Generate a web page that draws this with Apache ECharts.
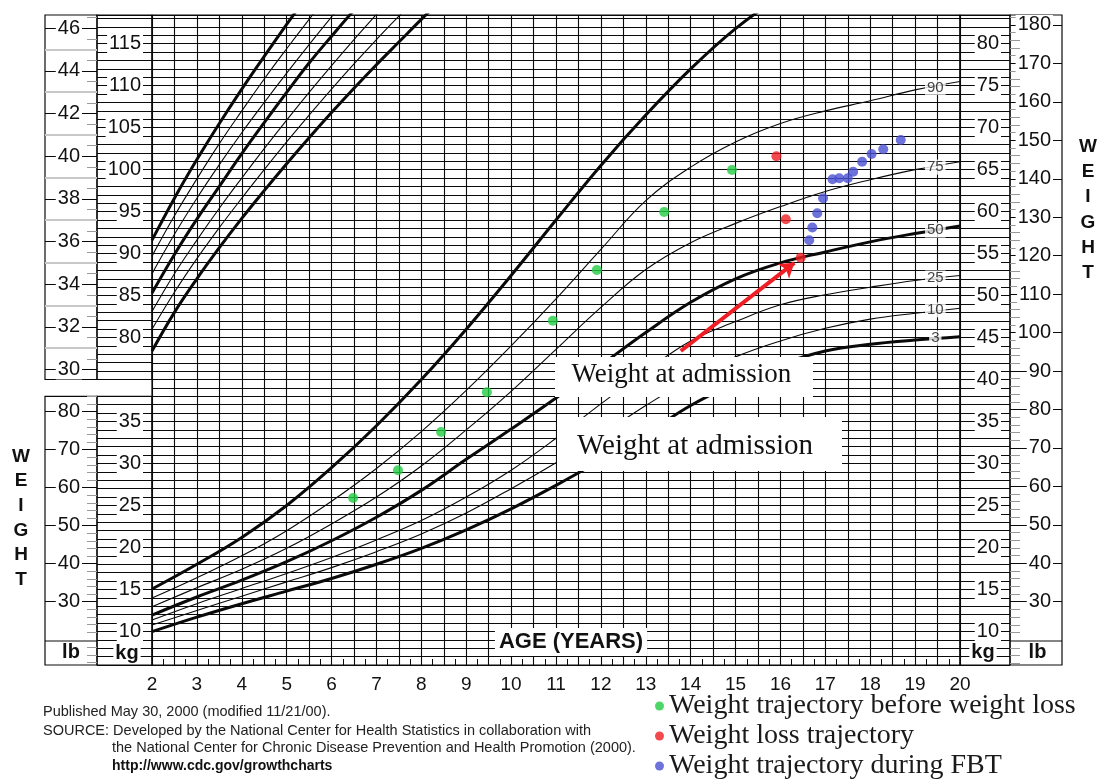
<!DOCTYPE html>
<html><head><meta charset="utf-8">
<script src="https://cdn.jsdelivr.net/npm/echarts@6/dist/echarts.min.js"></script>
<style>html,body{margin:0;padding:0;background:#fff}#c{width:1097px;height:780px}</style>
</head><body><div id="c"></div>
<script>
// ---------- data ----------
const weightAges = [2,3,4,5,6,7,8,9,10,11,12,13,14,15,16,17,18,19,20];
const wP3  = [9.97,11.7,13.3,14.8,16.3,18.0,19.9,22.1,24.6,27.4,30.4,33.5,36.9,39.6,41.8,43.4,44.2,44.7,45.1];
const wP10 = [10.76,12.5,14.2,15.9,17.6,19.5,21.6,24.1,27.0,30.1,33.4,36.9,40.1,42.7,44.6,46.1,47.2,47.9,48.5];
const wP25 = [11.36,13.3,15.1,16.9,18.8,20.9,23.2,26.0,29.2,33.0,37.1,41.0,44.6,46.9,48.9,50.1,51.0,51.8,52.4];
const wP50 = [11.95,14.1,16.1,18.3,20.8,23.6,26.8,30.5,34.1,37.8,41.7,45.6,49.2,52.0,53.9,55.2,56.4,57.4,58.3];
const wP75 = [12.95,15.2,17.4,19.9,22.8,26.0,29.7,34.0,38.6,43.6,48.6,53.1,56.3,58.6,60.6,62.4,63.8,65.0,65.95];
const wP90 = [13.98,16.4,19.0,22.0,25.5,29.4,33.8,38.7,44.0,49.6,55.5,61.3,65.3,68.3,70.5,72.0,73.2,74.5,75.5];
const wP97 = [15.05,18.0,21.2,25.0,29.5,34.5,40.0,46.0,52.4,59.0,65.5,71.5,77.0,81.8,85.6,88.5,90.8,92.4,93.5];

const statureAges = [2,2.5,3,3.5,4,4.5,5,5.5,6,6.5,7,7.5,8,8.5,9];
const sP97 = [91.6,96.6,101.2,105.5,109.6,113.5,117.3,121.0,124.6];
const sP90 = [89.7,94.5,98.9,103.1,107.0,110.8,114.4,117.9,121.3,124.6];
const sP75 = [87.6,92.3,96.6,100.6,104.4,108.0,111.5,114.9,118.2,121.4];
const sP50 = [85.3,89.9,94.1,98.0,101.9,105.6,109.2,112.7,115.9,119.0,122.0];
const sP25 = [83.1,87.6,91.6,95.4,99.0,102.5,105.9,109.2,112.4,115.5,118.5,121.5];
const sP10 = [81.0,85.4,89.4,93.1,96.6,100.0,103.3,106.5,109.6,112.6,115.5,118.3,121.1];
const sP3  = [78.4,83.0,87.0,90.7,94.2,97.5,100.7,103.8,106.8,109.7,112.5,115.2,117.9,120.5];

const curveLabelNames = ['90','75','50','25','10','3'];
const curveLabelAge = 19.45;
const curveLabelKg = [74.8,65.3,57.8,52.1,48.3,44.95];

const greenAges = [6.48,7.48,8.44,9.46,10.93,11.91,13.41,14.92];
const greenKg   = [25.9,29.2,33.75,38.5,47.0,53.05,59.95,64.96];
const redAges = [15.91,16.12,16.45];
const redKg   = [66.6,59.1,54.5];
const blueAges = [16.64,16.71,16.82,16.95,17.16,17.31,17.50,17.62,17.82,18.03,18.29,18.68];
const blueKg   = [56.6,58.1,59.8,61.6,63.85,63.97,63.97,64.76,65.95,66.86,67.42,68.53];
const arrowFrom = [13.78,43.4];
const arrowTo = [16.31,53.9];

const ageLabels = [2,3,4,5,6,7,8,9,10,11,12,13,14,15,16,17,18,19,20];
const cmLabels = [80,85,90,95,100,105,110,115];
const kgLeftLabels = [10,15,20,25,30,35];
const kgRightLabels = [10,15,20,25,30,35,40,45,50,55,60,65,70,75,80];
const inchLabels = [30,32,34,36,38,40,42,44,46];
const inchOdd = [31,33,35,37,39,41,43,45];
const lbLeftLabels = [30,40,50,60,70,80];
const lbRightLabels = [30,40,50,60,70,80,90,100,110,120,130,140,150,160,170,180];

const seriesNames = ['Weight trajectory before weight loss','Weight loss trajectory','Weight trajectory during FBT'];

// ---------- helpers ----------
const LINE = '#0a0a0a';
const FONT = '"Liberation Sans", Arial, Helvetica, sans-serif';
const SERIF = '"Liberation Serif", "Times New Roman", serif';
const pair = (xs, ys) => ys.map((v, i) => [xs[i], v]);
const minorList = (from, to, step, skip) => { const a = []; for (let v = from; v <= to + 1e-9; v += step) { const r = Math.round(v * 100) / 100; if (Math.abs(r / skip - Math.round(r / skip)) > 1e-6) a.push(r); } return a; };
const inchHalf = minorList(29.5, 46.5, 0.5, 1);
const lbLeftMinor = minorList(14, 84, 2, 10);
const lbRightMinor = minorList(14, 182, 2, 10);

const tickLbl = {fontFamily: FONT, fontSize: 20, color: '#111', backgroundColor: '#fff', padding: [0, 2]};
const splitStyle = {show: true, lineStyle: {color: LINE, width: 1.1}};
const noLine = {show: false, onZero: false};
const off = {show: false};

function curve(ages, vals, thick, yIdx) {
  return {type: 'line', xAxisIndex: 0, yAxisIndex: yIdx, data: pair(ages, vals), smooth: 0.4,
    symbol: 'none', silent: true, animation: false, z: 3, lineStyle: {color: LINE, width: thick ? 3 : 1.1}};
}

const grids = [
  {left: 152, top: 15, width: 808, height: 650},
  {left: 97, top: 15, width: 55, height: 364.5},
  {left: 97, top: 396.3, width: 55, height: 268.7},
  {left: 960, top: 15, width: 50, height: 650},
  {left: 45, top: 15, width: 52, height: 364.5},
  {left: 45, top: 396.3, width: 52, height: 268.7},
  {left: 1010, top: 15, width: 52, height: 650}
].map(g => Object.assign(g, {show: true, borderColor: LINE, borderWidth: 1.2}));

const xAxes = [{
  gridIndex: 0, type: 'value', min: 2, max: 20, interval: 0.5,
  axisLine: {show: false, onZero: false}, axisTick: {show: false, inside: true},
  minorTick: {show: true, splitNumber: 2, length: 6, lineStyle: {color: LINE, width: 1}},
  splitLine: splitStyle,
  axisLabel: {formatter: v => ageLabels.includes(v) ? String(v) : '', fontFamily: FONT, fontSize: 19, color: '#111', margin: 10}
}];
for (let i = 1; i < 7; i++) xAxes.push({gridIndex: i, type: 'value', min: 1, max: 2, show: false, axisLine: {onZero: false}});

function tickAxis(grid, pos, min, max, values, len, color, width, labels, margin, align) {
  return {gridIndex: grid, type: 'value', min, max, position: pos, axisLine: noLine, splitLine: off,
    axisTick: {show: true, inside: false, length: len, customValues: values, lineStyle: {color, width}},
    axisLabel: labels ? Object.assign({inside: false, margin, customValues: labels, align}, tickLbl) : off};
}

const yAxes = [
  {gridIndex: 0, type: 'value', min: 6, max: 83.42, interval: 1, position: 'left', axisLine: noLine, axisTick: off, axisLabel: off, splitLine: splitStyle},
  {gridIndex: 0, type: 'value', min: 41, max: 118.42, position: 'right', show: false, axisLine: noLine},
  {gridIndex: 1, type: 'value', min: 75, max: 118.42, interval: 1, position: 'right', axisLine: noLine, axisTick: off, splitLine: splitStyle,
    axisLabel: Object.assign({inside: true, margin: 9, customValues: cmLabels}, tickLbl)},
  tickAxis(1, 'left', 29.5276, 46.622, inchOdd, 52, '#c8c8c8', 2),
  tickAxis(1, 'left', 29.5276, 46.622, inchHalf, 10, '#999', 1),
  tickAxis(1, 'left', 29.5276, 46.622, inchLabels, 52, LINE, 1, inchLabels, 15, 'right'),
  {gridIndex: 2, type: 'value', min: 6, max: 38, interval: 1, position: 'right', axisLine: noLine, axisTick: off, splitLine: splitStyle,
    axisLabel: Object.assign({inside: true, margin: 9, customValues: kgLeftLabels}, tickLbl)},
  tickAxis(2, 'left', 13.34, 84.05, lbLeftMinor, 10, '#999', 1),
  tickAxis(2, 'left', 13.34, 84.05, lbLeftLabels, 52, LINE, 1, lbLeftLabels, 15, 'right'),
  {gridIndex: 3, type: 'value', min: 6, max: 83.42, interval: 1, position: 'right', axisLine: noLine, axisTick: off, splitLine: splitStyle,
    axisLabel: Object.assign({inside: true, margin: 9, customValues: kgRightLabels}, tickLbl)},
  tickAxis(3, 'right', 13.54, 182.59, lbRightMinor, 10, '#999', 1),
  tickAxis(3, 'right', 13.54, 182.59, lbRightLabels, 52, LINE, 1, lbRightLabels, 43, 'right'),
  {gridIndex: 4, type: 'value', min: 1, max: 2, show: false, axisLine: noLine},
  {gridIndex: 5, type: 'value', min: 1, max: 2, show: false, axisLine: noLine},
  {gridIndex: 6, type: 'value', min: 1, max: 2, show: false, axisLine: noLine}
];

const series = [
  curve(statureAges, sP97, true, 1), curve(statureAges, sP90, false, 1), curve(statureAges, sP75, false, 1),
  curve(statureAges, sP50, true, 1), curve(statureAges, sP25, false, 1), curve(statureAges, sP10, false, 1),
  curve(statureAges, sP3, true, 1),
  curve(weightAges, wP97, true, 0), curve(weightAges, wP90, false, 0), curve(weightAges, wP75, false, 0),
  curve(weightAges, wP50, true, 0), curve(weightAges, wP25, false, 0), curve(weightAges, wP10, false, 0),
  curve(weightAges, wP3, true, 0),
  {type: 'scatter', xAxisIndex: 0, yAxisIndex: 0, silent: true, animation: false, z: 4, symbolSize: 0,
    data: curveLabelKg.map((v, i) => [curveLabelAge, v, curveLabelNames[i]]),
    label: {show: true, position: 'inside', formatter: p => p.value[2], fontFamily: FONT, fontSize: 15, color: '#111', backgroundColor: '#fff', padding: [0, 2]}},
  {name: seriesNames[0], type: 'scatter', xAxisIndex: 0, yAxisIndex: 0, symbolSize: 10, z: 6, animation: false,
    itemStyle: {color: '#22cc44'}, data: pair(greenAges, greenKg)},
  {name: seriesNames[1], type: 'scatter', xAxisIndex: 0, yAxisIndex: 0, symbolSize: 10, z: 6, animation: false,
    itemStyle: {color: '#ee1e24'}, data: pair(redAges, redKg),
    markLine: {silent: true, animation: false, symbol: ['none', 'arrow'], symbolSize: 14,
      lineStyle: {color: '#ee1e24', width: 4, type: 'solid'}, label: {show: false},
      data: [[{coord: arrowFrom}, {coord: arrowTo}]]}},
  {name: seriesNames[2], type: 'scatter', xAxisIndex: 0, yAxisIndex: 0, symbolSize: 10, z: 6, animation: false,
    itemStyle: {color: '#4850d2'}, data: pair(blueAges, blueKg)}
];

const txt = (x, y, text, font, extra) => ({type: 'text', x, y, z: 110, style: Object.assign({text, font, fill: '#111', textVerticalAlign: 'middle'}, extra || {})});
const graphic = [
  {type: 'rect', z: 100, shape: {x: 555, y: 357, width: 258, height: 40}, style: {fill: '#fff'}},
  txt(571.5, 374.5, 'Weight at admission', '27px ' + SERIF),
  {type: 'rect', z: 100, shape: {x: 557, y: 417, width: 285, height: 54}, style: {fill: '#fff'}},
  txt(577, 446, 'Weight at admission', '29px ' + SERIF),
  txt(571, 642, 'AGE (YEARS)', 'bold 22px ' + FONT, {textAlign: 'center', backgroundColor: '#fff', padding: [3, 4]}),
  txt(71, 652, 'lb', 'bold 20px ' + FONT, {textAlign: 'center', backgroundColor: '#fff', padding: [0, 2]}),
  txt(127, 653, 'kg', 'bold 20px ' + FONT, {textAlign: 'center', backgroundColor: '#fff', padding: [0, 2]}),
  txt(983, 652, 'kg', 'bold 20px ' + FONT, {textAlign: 'center', backgroundColor: '#fff', padding: [0, 2]}),
  txt(1037.5, 652, 'lb', 'bold 20px ' + FONT, {textAlign: 'center', backgroundColor: '#fff', padding: [0, 2]}),
  {type: 'line', z: 105, shape: {x1: 45, y1: 641, x2: 97, y2: 641}, style: {stroke: LINE, lineWidth: 1.2}},
  {type: 'line', z: 105, shape: {x1: 1010, y1: 641, x2: 1062, y2: 641}, style: {stroke: LINE, lineWidth: 1.2}},
  {type: 'text', x: 21, y: 444, z: 110, style: {text: 'W\nE\nI\nG\nH\nT', font: 'bold 19px ' + FONT, fill: '#111', textAlign: 'center', lineHeight: 24.7}},
  {type: 'text', x: 1088, y: 134, z: 110, style: {text: 'W\nE\nI\nG\nH\nT', font: 'bold 19px ' + FONT, fill: '#111', textAlign: 'center', lineHeight: 25.3}},
  txt(43, 712, 'Published May 30, 2000 (modified 11/21/00).', '14.5px ' + FONT, {fill: '#222'}),
  txt(43, 731, 'SOURCE: Developed by the National Center for Health Statistics in collaboration with', '14.5px ' + FONT, {fill: '#222'}),
  txt(112, 748, 'the National Center for Chronic Disease Prevention and Health Promotion (2000).', '14.5px ' + FONT, {fill: '#222'}),
  txt(112, 766, 'http://www.cdc.gov/growthcharts', 'bold 14px ' + FONT, {fill: '#111'})
];

const chart = echarts.init(document.getElementById('c'), null, {renderer: 'canvas'});
chart.setOption({
  backgroundColor: '#fff',
  animation: false,
  grid: grids,
  xAxis: xAxes,
  yAxis: yAxes,
  legend: {data: seriesNames, orient: 'vertical', left: 655, top: 692, height: 120, width: 440,
    itemWidth: 9, itemHeight: 9, itemGap: 2,
    icon: 'circle', selectedMode: false, padding: 0,
    textStyle: {fontFamily: SERIF, fontSize: 28, color: '#1a1a1a', lineHeight: 28}},
  series,
  graphic
});
</script>
</body></html>
